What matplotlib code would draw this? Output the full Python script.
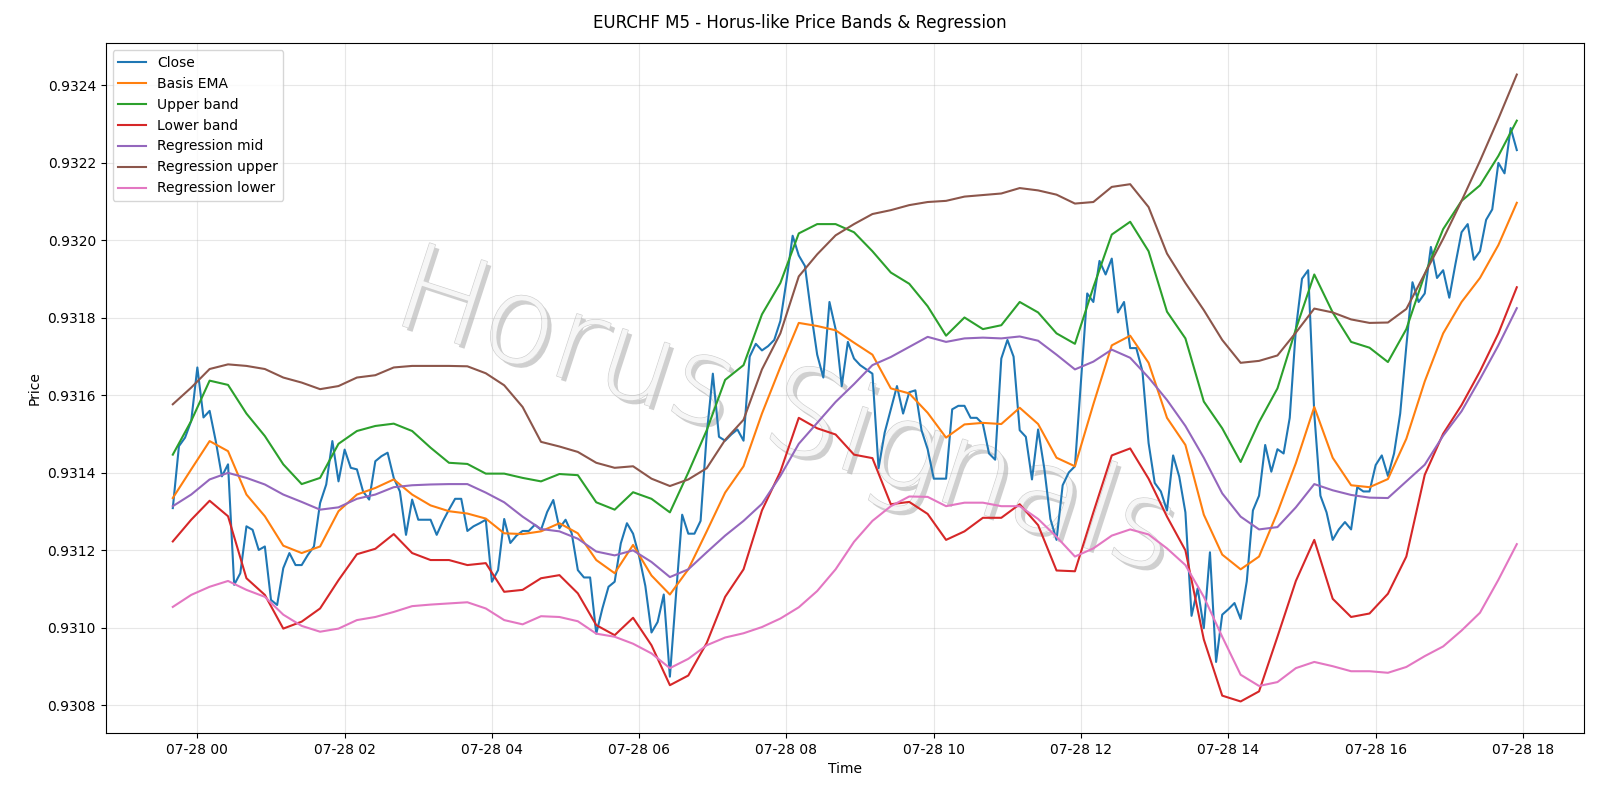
import matplotlib
matplotlib.use("Agg")
import matplotlib.pyplot as plt
import matplotlib.dates as mdates
import matplotlib.patheffects as pe
import pandas as pd

# ---- Close, 5-minute bars from 07-27 23:40 to 07-28 17:55 ----
close = [
    0.931309, 0.931469, 0.931491, 0.931534,
    0.931672, 0.931543, 0.931560, 0.931482, 0.931391, 0.931422, 0.931111, 0.931141, 0.931262, 0.931253, 0.931201, 0.931210,
    0.931072, 0.931059, 0.931154, 0.931193, 0.931162, 0.931162, 0.931188, 0.931210, 0.931322, 0.931370, 0.931482, 0.931378,
    0.931460, 0.931413, 0.931409, 0.931352, 0.931331, 0.931430, 0.931443, 0.931452, 0.931387, 0.931352, 0.931240, 0.931331,
    0.931279, 0.931279, 0.931279, 0.931240, 0.931275, 0.931305, 0.931333, 0.931333, 0.931250, 0.931262, 0.931270, 0.931279,
    0.931119, 0.931149, 0.931281, 0.931219, 0.931238, 0.931250, 0.931250, 0.931266, 0.931253, 0.931299, 0.931330, 0.931257,
    0.931279, 0.931244, 0.931149, 0.931130, 0.931130, 0.930985, 0.931050, 0.931106, 0.931119, 0.931218, 0.931270, 0.931243,
    0.931184, 0.931108, 0.930988, 0.931015, 0.931086, 0.930874, 0.931086, 0.931292, 0.931243, 0.931243, 0.931276, 0.931499,
    0.931656, 0.931493, 0.931483, 0.931499, 0.931512, 0.931483, 0.931700, 0.931733, 0.931716, 0.931727, 0.931743, 0.931792,
    0.931896, 0.932012, 0.931961, 0.931934, 0.931814, 0.931705, 0.931646, 0.931841, 0.931771, 0.931624, 0.931738, 0.931695,
    0.931678, 0.931667, 0.931656, 0.931412, 0.931504, 0.931564, 0.931624, 0.931553, 0.931608, 0.931613, 0.931510, 0.931461,
    0.931385, 0.931385, 0.931385, 0.931564, 0.931573, 0.931573, 0.931542, 0.931542, 0.931526, 0.931450, 0.931434, 0.931695,
    0.931743, 0.931700, 0.931510, 0.931493, 0.931383, 0.931512, 0.931412, 0.931281, 0.931227, 0.931368, 0.931401, 0.931417,
    0.931640, 0.931863, 0.931841, 0.931947, 0.931912, 0.931953, 0.931814, 0.931841, 0.931722, 0.931722, 0.931662, 0.931477,
    0.931374, 0.931352, 0.931303, 0.931445, 0.931390, 0.931298, 0.931031, 0.931102, 0.930999, 0.931195, 0.930912, 0.931034,
    0.931048, 0.931064, 0.931023, 0.931120, 0.931303, 0.931341, 0.931472, 0.931403, 0.931461, 0.931450, 0.931542, 0.931771,
    0.931901, 0.931923, 0.931553, 0.931341, 0.931298, 0.931227, 0.931254, 0.931273, 0.931254, 0.931363, 0.931352, 0.931352,
    0.931420, 0.931445, 0.931392, 0.931450, 0.931553, 0.931727, 0.931892, 0.931841, 0.931863, 0.931983, 0.931903, 0.931923,
    0.931852, 0.931939, 0.932021, 0.932042, 0.931950, 0.931972, 0.932053, 0.932080, 0.932200, 0.932173, 0.932290, 0.932233,
]

# ---- smooth series, read every 15 minutes from 07-27 23:40 to 07-28 17:55 ----
basis_ema = [
    0.931335, 0.931409, 0.931482, 0.931456, 0.931344, 0.931288, 0.931212, 0.931193, 0.931210, 0.931301, 0.931344, 0.931361, 0.931383,
    0.931344, 0.931316, 0.931301, 0.931295, 0.931282, 0.931244, 0.931242, 0.931249, 0.931270, 0.931244, 0.931175, 0.931141,
    0.931214, 0.931135, 0.931086, 0.931151, 0.931249, 0.931349, 0.931417,
    0.931553, 0.931673, 0.931787, 0.931779, 0.931768, 0.931736, 0.931705,
    0.931618, 0.931605, 0.931555, 0.931491, 0.931525, 0.931529, 0.931526,
    0.931568, 0.931526, 0.931439, 0.931417, 0.931577, 0.931729,
    0.931754, 0.931684, 0.931542, 0.931472, 0.931292, 0.931189, 0.931151,
    0.931184, 0.931298, 0.931425, 0.931570, 0.931439, 0.931368, 0.931363,
    0.931384, 0.931488, 0.931636, 0.931760, 0.931841, 0.931903, 0.931988, 0.932097,
]
upper_band = [
    0.931447, 0.931534, 0.931638, 0.931627, 0.931553, 0.931495, 0.931422, 0.931371, 0.931387, 0.931475, 0.931508, 0.931521, 0.931527,
    0.931508, 0.931465, 0.931426, 0.931423, 0.931398, 0.931398, 0.931387, 0.931378, 0.931397, 0.931394, 0.931324, 0.931305,
    0.931350, 0.931333, 0.931298, 0.931401, 0.931510, 0.931640, 0.931678,
    0.931809, 0.931890, 0.932018, 0.932042, 0.932042, 0.932021, 0.931972,
    0.931917, 0.931888, 0.931830, 0.931754, 0.931801, 0.931771, 0.931781,
    0.931841, 0.931814, 0.931760, 0.931733, 0.931879, 0.932015,
    0.932048, 0.931972, 0.931816, 0.931747, 0.931584, 0.931515, 0.931428,
    0.931531, 0.931618, 0.931771, 0.931912, 0.931814, 0.931738, 0.931723,
    0.931686, 0.931771, 0.931912, 0.932029, 0.932102, 0.932142, 0.932218, 0.932309,
]
lower_band = [
    0.931223, 0.931279, 0.931328, 0.931288, 0.931128, 0.931085, 0.930998, 0.931016, 0.931050, 0.931123, 0.931190, 0.931204, 0.931242,
    0.931193, 0.931175, 0.931175, 0.931162, 0.931167, 0.931093, 0.931098, 0.931128, 0.931136, 0.931089, 0.931007, 0.930981,
    0.931026, 0.930955, 0.930852, 0.930877, 0.930961, 0.931080, 0.931151,
    0.931303, 0.931403, 0.931542, 0.931515, 0.931499, 0.931447, 0.931438,
    0.931319, 0.931325, 0.931294, 0.931227, 0.931249, 0.931284, 0.931284,
    0.931319, 0.931265, 0.931148, 0.931146, 0.931298, 0.931445,
    0.931463, 0.931385, 0.931287, 0.931200, 0.930970, 0.930825, 0.930810,
    0.930836, 0.930977, 0.931121, 0.931227, 0.931075, 0.931028, 0.931037,
    0.931088, 0.931184, 0.931395, 0.931501, 0.931575, 0.931662, 0.931760, 0.931879,
]
reg_mid = [
    0.931314, 0.931344, 0.931383, 0.931400, 0.931387, 0.931370, 0.931344, 0.931325, 0.931305, 0.931311, 0.931333, 0.931344, 0.931363,
    0.931368, 0.931370, 0.931371, 0.931371, 0.931349, 0.931324, 0.931287, 0.931255, 0.931249, 0.931230, 0.931197, 0.931187,
    0.931200, 0.931170, 0.931131, 0.931151, 0.931195, 0.931238, 0.931276,
    0.931320, 0.931392, 0.931475, 0.931529, 0.931583, 0.931629, 0.931678,
    0.931699, 0.931725, 0.931751, 0.931738, 0.931747, 0.931749, 0.931747,
    0.931752, 0.931741, 0.931705, 0.931667, 0.931687, 0.931718,
    0.931697, 0.931646, 0.931588, 0.931521, 0.931439, 0.931347, 0.931287,
    0.931254, 0.931260, 0.931311, 0.931371, 0.931355, 0.931343, 0.931336,
    0.931335, 0.931378, 0.931421, 0.931496, 0.931559, 0.931642, 0.931729, 0.931825,
]
reg_upper = [
    0.931577, 0.931620, 0.931668, 0.931680, 0.931676, 0.931668, 0.931646, 0.931633, 0.931616, 0.931624, 0.931646, 0.931652, 0.931672,
    0.931676, 0.931676, 0.931676, 0.931675, 0.931657, 0.931626, 0.931570, 0.931480, 0.931468, 0.931454, 0.931426, 0.931413,
    0.931417, 0.931385, 0.931366, 0.931383, 0.931412, 0.931485, 0.931537,
    0.931667, 0.931760, 0.931907, 0.931964, 0.932013, 0.932042, 0.932068,
    0.932078, 0.932091, 0.932099, 0.932102, 0.932113, 0.932117, 0.932121,
    0.932135, 0.932129, 0.932118, 0.932095, 0.932099, 0.932138,
    0.932145, 0.932086, 0.931966, 0.931890, 0.931820, 0.931743, 0.931684,
    0.931689, 0.931703, 0.931762, 0.931824, 0.931814, 0.931796, 0.931787,
    0.931788, 0.931823, 0.931914, 0.932004, 0.932102, 0.932205, 0.932314, 0.932428,
]
reg_lower = [
    0.931054, 0.931085, 0.931106, 0.931121, 0.931098, 0.931080, 0.931034, 0.931005, 0.930990, 0.930998, 0.931020, 0.931028, 0.931041,
    0.931056, 0.931060, 0.931063, 0.931066, 0.931050, 0.931020, 0.931009, 0.931030, 0.931028, 0.931017, 0.930985, 0.930977,
    0.930959, 0.930934, 0.930896, 0.930920, 0.930955, 0.930975, 0.930986,
    0.931002, 0.931024, 0.931053, 0.931095, 0.931151, 0.931222, 0.931276,
    0.931314, 0.931339, 0.931338, 0.931314, 0.931323, 0.931323, 0.931314,
    0.931314, 0.931281, 0.931235, 0.931184, 0.931205, 0.931238,
    0.931254, 0.931241, 0.931205, 0.931162, 0.931080, 0.930977, 0.930879,
    0.930850, 0.930860, 0.930896, 0.930912, 0.930901, 0.930888, 0.930888,
    0.930884, 0.930899, 0.930927, 0.930952, 0.930993, 0.931039, 0.931124, 0.931216,
]

start = "2025-07-27 23:40"
t_close = pd.date_range(start, periods=len(close), freq="5min")
t_smooth = pd.date_range(start, periods=len(basis_ema), freq="15min")

fig, ax = plt.subplots(figsize=(16, 8), dpi=100)
fig.subplots_adjust(left=0.066, right=0.99, top=0.946, bottom=0.084)

ax.text(0.46, 0.46, "Horus Signals", transform=ax.transAxes, fontsize=86,
        fontweight="light", color="#f6f6f6", rotation=-18, ha="center", va="center",
        zorder=0,
        path_effects=[pe.withSimplePatchShadow(offset=(3, -3), shadow_rgbFace="#a0a0a0", alpha=0.5),
                      pe.Stroke(linewidth=0.9, foreground="#cfcfcf"), pe.Normal()])

ax.plot(t_close, close, label="Close")
ax.plot(t_smooth, basis_ema, label="Basis EMA")
ax.plot(t_smooth, upper_band, label="Upper band")
ax.plot(t_smooth, lower_band, label="Lower band")
ax.plot(t_smooth, reg_mid, label="Regression mid")
ax.plot(t_smooth, reg_upper, label="Regression upper")
ax.plot(t_smooth, reg_lower, label="Regression lower")

fig.suptitle("EURCHF M5 - Horus-like Price Bands & Regression", fontsize=12, y=0.983)
ax.set_xlabel("Time")
ax.set_ylabel("Price")
ax.grid(True, alpha=0.3)
ax.legend(loc="upper left")
ax.ticklabel_format(axis="y", useOffset=False)
ax.xaxis.set_major_locator(mdates.HourLocator(byhour=range(0, 24, 2)))
ax.xaxis.set_major_formatter(mdates.DateFormatter("%m-%d %H"))

fig.savefig("out.png", dpi=100)
